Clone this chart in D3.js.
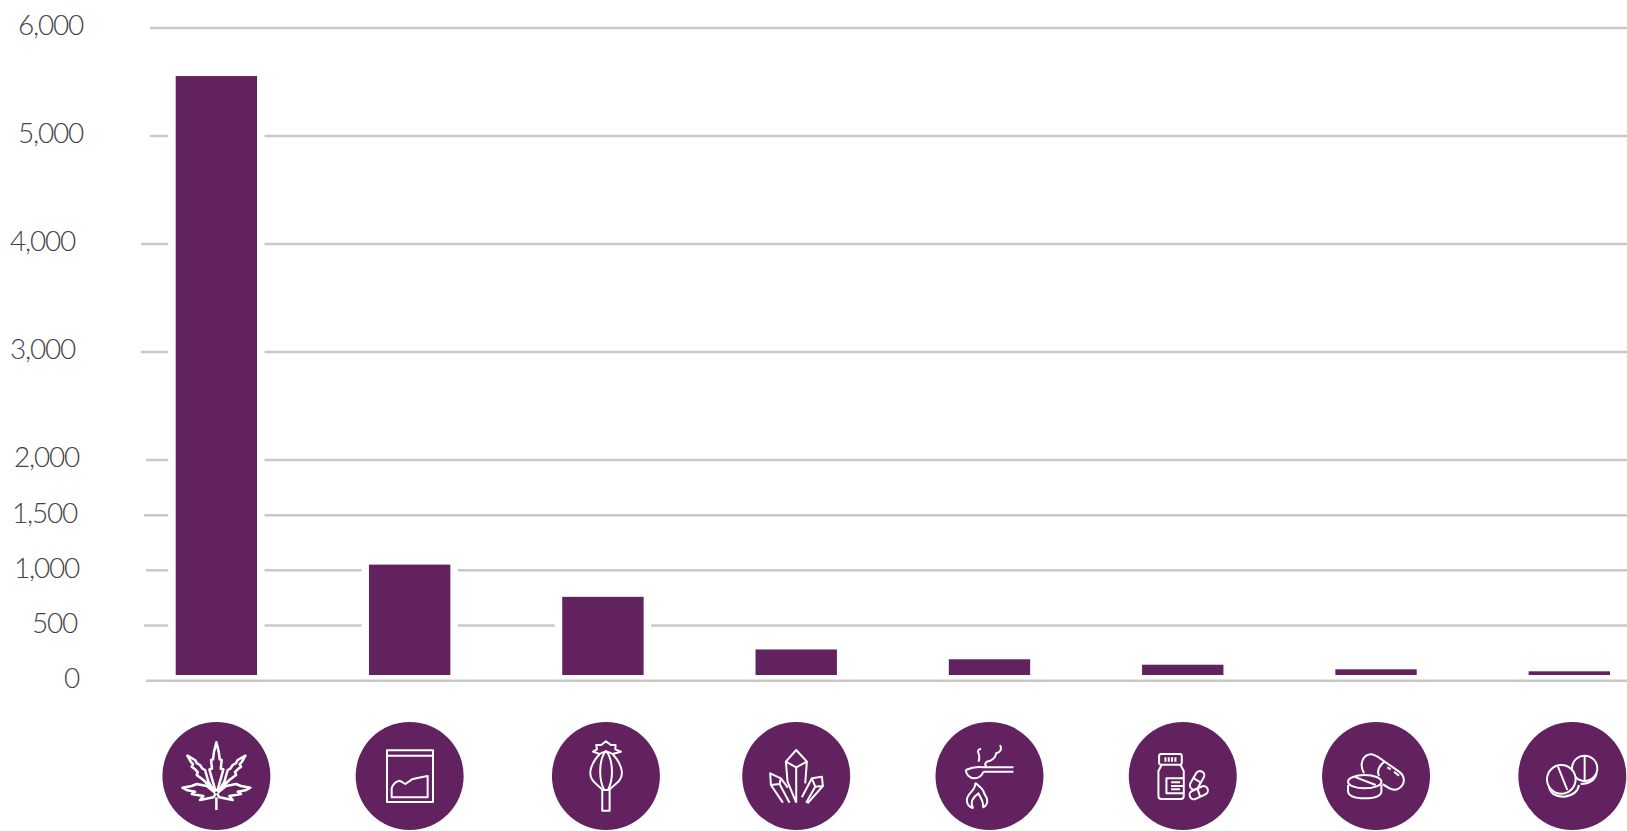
<!DOCTYPE html>
<html>
<head>
<meta charset="utf-8">
<script src="https://cdn.jsdelivr.net/npm/d3@7"></script>
<style>
    body { margin: 0; background: #fff; }
    svg { display: block; }
    .y-axis text { font-family: Lato, "Open Sans", sans-serif; font-weight: 300; font-size: 28px; fill: #444446; letter-spacing: -1.2px; }
    .icon path, .icon rect, .icon ellipse, .icon circle { fill: none; stroke: #fff; stroke-width: 6; stroke-linejoin: round; }
    .icon .leaf path { stroke-width: 7.5; }
</style>
</head>
<body>
<div id="chart"></div>
<script>
// Chart values
const categories = ["cannabis", "powder", "poppy", "crystals", "spoon", "bottle", "capsules", "tablets"];
const values = [5555, 1052, 760, 283, 194, 145, 103, 85];
const tickValues = [0, 500, 1000, 1500, 2000, 3000, 4000, 5000, 6000];

const width = 1627;
const height = 831;
const purple = "#62225f";
const grey = "#c9c9c9";

// The hand-placed labels and tick stubs of the original sit at slightly different x
const labelRight = { 0: 79, 500: 77, 1000: 79, 1500: 77, 2000: 79, 3000: 75, 4000: 75, 5000: 83, 6000: 83 };
const gridLeft = { 0: 146, 500: 144, 1000: 146, 1500: 144, 2000: 146, 3000: 141, 4000: 141, 5000: 150, 6000: 150 };
const barFloor = 675;   // bars stop short of the zero line
const halo = 7.5;       // white gap cut out of the grid either side of a bar
const iconY = 776;
const iconR = 54;
const iconShift = { poppy: 3, tablets: 3 };

// Icon line art, in 3x units around the circle centre
const leafHalf = `
    <path d="M-9 42L-39 12L-59 -3L-56 -12L-64 -20L-74 -28L-70 -35L-77 -43L-87 -61L-64 -48L-58 -38L-49 -33L-42 -22L-34 -18L-24 17L-9 42"/>
    <path d="M-4 50L-29 30L-59 24L-74 30L-102 35L-87 43L-64 47L-74 54L-39 60L-49 72L-9 64L-2 52"/>`;

const icons = {
    cannabis: `<g class="leaf">
        <g>${leafHalf}</g>
        <g transform="scale(-1,1)">${leafHalf}</g>
        <path d="M-2 47L-15 2L-21 -20L-13 -22L-16 -48L-10 -50L-7 -73L0 -101L7 -73L10 -50L16 -48L13 -22L21 -20L15 2L2 47"/>
        <path d="M0 64V102"/></g>`,
    powder: `
        <rect x="-68" y="-77" width="138" height="155"/>
        <path d="M-68 -61H70"/>
        <path d="M-54 64V37Q-48 17 -30 14L-13 24L7 10L27 5L54 0V64Z"/>`,
    poppy: `
        <path d="M-39 -73L-27 -80L-29 -93L-14 -93L0 -104L15 -93L29 -93L28 -80L45 -73L20 -66Q0 -80 -19 -66Z"/>
        <path d="M-19 -66C-37 -46 -47 -28 -47 -8C-47 17 -22 27 -10 42H10C22 27 48 17 48 -8C48 -28 38 -46 20 -66"/>
        <path d="M0 -76C-22 -48 -22 12 -5 42M0 -76C23 -48 23 12 6 42"/>
        <path d="M-11 42V104H11V42"/>`,
    crystals: `
        <path d="M-31 -43L0 -78L32 -43L0 -26Z"/>
        <path d="M0 -26V80M-31 -43L-26 17L0 80M32 -43L27 22"/>
        <path d="M-78 -8L-46 7L-50 24L-76 27Z"/>
        <path d="M-76 27L-40 80M-50 24L-20 80M-46 7L-25 35"/>
        <path d="M47 7L77 2L80 30L57 32Z"/>
        <path d="M47 7L17 64M57 32L30 80M80 30L34 82"/>`,
    spoon: `
        <path d="M-71 -18Q-45 -30 -18 -26H72M72 -13H-18"/>
        <path d="M-71 -18C-71 -5 -60 7 -45 7C-30 7 -22 -3 -18 -13"/>
        <path d="M-25 -81Q-38 -80 -33 -68Q-28 -58 -33 -43"/>
        <path d="M32 -93Q40 -73 20 -68Q17 -48 -8 -43Q-18 -33 -8 -28"/>
        <path d="M-43 20C-38 42 -68 52 -68 72C-68 87 -58 94 -48 97M-43 20C-23 37 -18 42 -16 52L-8 67C-3 82 -13 92 -20 95"/>
        <path d="M-50 96C-60 75 -45 60 -33 52C-25 70 -15 80 -20 95"/>`,
    bottle: `
        <rect x="-71" y="-66" width="68" height="32" rx="6"/>
        <path d="M-52 -56V-43M-42 -56V-43M-32 -56V-43M-22 -56V-43"/>
        <path d="M-63 -34L-73 -15V60Q-73 69 -64 69H-6Q3 69 3 60V-15L-7 -34"/>
        <path d="M3 7H-49V52H3M-35 19H-8M-35 40H-8M-35 30H3"/>
        <rect x="30" y="-17" width="26" height="60" rx="13" transform="rotate(30 43 13)"/>
        <path d="M30 5L56 21"/>
        <rect x="19" y="37" width="58" height="26" rx="13" transform="rotate(-25 48 50)"/>
        <path d="M44 38L52 62"/>`,
    capsules: `
        <path d="M-36 -8C-51 -33 -41 -63 -16 -65C-6 -66 4 -58 19 -48L69 -13C89 2 89 27 64 40C49 44 39 37 19 24"/>
        <path d="M26 -43C9 -33 2 -13 9 0M34 -26L44 -20M54 -13L69 -1"/>
        <path d="M-84 27V47Q-81 67 -34 67Q14 67 16 47V27"/>
        <ellipse cx="-34" cy="17" rx="50" ry="20" style="fill:${purple}"/>
        <path d="M-66 2L-1 27"/>`,
    tablets: `
        <path d="M25 24Q65 24 73 -8"/>
        <circle cx="37" cy="-23" r="38"/>
        <path d="M37 -61V12"/>
        <path d="M-70 32Q-65 62 -25 62Q15 57 20 27"/>
        <circle cx="-33" cy="10" r="43" style="fill:${purple}"/>
        <path d="M-43 -28L-15 42"/>`
};

const svg = d3.select("#chart")
    .append("svg")
    .attr("width", width)
    .attr("height", height);

// Scales: the axis is very slightly stretched below 2,000
const x = d3.scaleBand()
    .domain(categories)
    .range([175.7, 1610])
    .paddingInner(0.579)
    .paddingOuter(0);

const y = d3.scaleLinear()
    .domain([0, 2000, 6000])
    .range([680.7, 460, 28]);

const data = categories.map((c, i) => ({ category: c, value: values[i] }));

// Grid lines, zero line goes on last so the halos cannot cut it
svg.append("g")
    .selectAll("line")
    .data(tickValues.filter(d => d > 0))
    .join("line")
    .attr("x1", d => gridLeft[d])
    .attr("x2", width)
    .attr("y1", d => y(d))
    .attr("y2", d => y(d))
    .attr("stroke", grey)
    .attr("stroke-width", 2.5);

// White gaps in the grid around each bar
svg.append("g")
    .selectAll("rect")
    .data(data)
    .join("rect")
    .attr("x", d => x(d.category) - halo)
    .attr("width", x.bandwidth() + halo * 2)
    .attr("y", d => y(d.value))
    .attr("height", d => barFloor - y(d.value))
    .attr("fill", "#fff");

svg.append("line")
    .attr("x1", gridLeft[0])
    .attr("x2", width)
    .attr("y1", y(0))
    .attr("y2", y(0))
    .attr("stroke", grey)
    .attr("stroke-width", 2.5);

// Bars
svg.append("g")
    .selectAll("rect")
    .data(data)
    .join("rect")
    .attr("x", d => x(d.category))
    .attr("width", x.bandwidth())
    .attr("y", d => y(d.value))
    .attr("height", d => barFloor - y(d.value))
    .attr("fill", purple);

// Y axis, only the labels are kept
const yAxis = svg.append("g")
    .attr("class", "y-axis")
    .call(d3.axisLeft(y).tickValues(tickValues).tickFormat(d3.format(",")).tickSize(0));

yAxis.select(".domain").remove();
yAxis.selectAll("text")
    .attr("x", d => labelRight[d])
    .attr("dy", "0.32em")
    .attr("y", -2);

// Category icons
const icon = svg.append("g")
    .selectAll("g")
    .data(categories)
    .join("g")
    .attr("transform", d => `translate(${x(d) + x.bandwidth() / 2 + (iconShift[d] || 0)},${iconY})`);

icon.append("circle")
    .attr("r", iconR)
    .attr("fill", purple);

icon.append("g")
    .attr("class", "icon")
    .attr("transform", "scale(0.3333)")
    .html(d => icons[d]);
</script>
</body>
</html>
